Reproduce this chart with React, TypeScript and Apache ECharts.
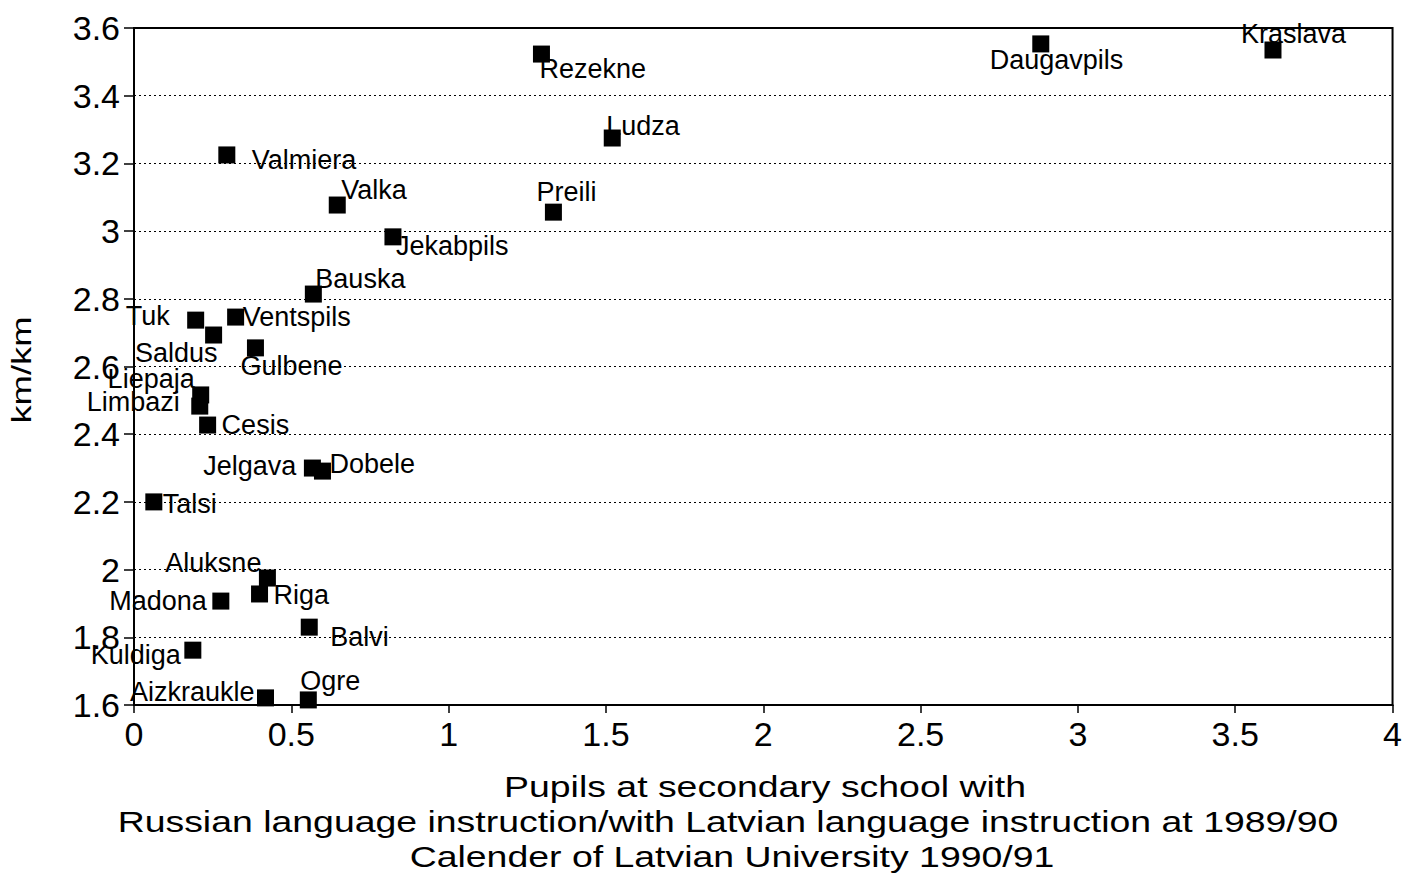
import React, { useEffect, useRef } from "react";
import * as echarts from "echarts";

// District names (labels on the points)
const districts = [
  "Rezekne", "Daugavpils", "Kraslava", "Ludza", "Valmiera", "Valka", "Preili",
  "Jekabpils", "Bauska", "Tuk", "Ventspils", "Saldus", "Gulbene", "Liepaja",
  "Limbazi", "Cesis", "Jelgava", "Dobele", "Talsi", "Aluksne", "Riga",
  "Madona", "Balvi", "Kuldiga", "Aizkraukle", "Ogre",
];

// Pupils with Russian / with Latvian language instruction (x)
const pupilsRatio = [
  1.295, 2.882, 3.62, 1.52, 0.295, 0.646, 1.333,
  0.823, 0.57, 0.196, 0.323, 0.253, 0.386, 0.212,
  0.209, 0.234, 0.567, 0.599, 0.063, 0.424, 0.399,
  0.276, 0.557, 0.187, 0.418, 0.554,
];

// km/km (y)
const kmPerKm = [
  3.523, 3.553, 3.535, 3.275, 3.225, 3.077, 3.056,
  2.983, 2.814, 2.737, 2.746, 2.693, 2.655, 2.516,
  2.483, 2.427, 2.30, 2.291, 2.20, 1.975, 1.928,
  1.907, 1.83, 1.762, 1.621, 1.615,
];

const xAxisTitleLines = [
  "Pupils at secondary school with",
  "Russian language instruction/with Latvian language instruction at 1989/90",
  "Calender of Latvian University 1990/91",
];
const yAxisTitle = "km/km";

// Label placement (style only): [align, dx, dy] relative to marker centre
const labelPlacement: [string, number, number][] = [
  ["left", -2, 15],    // Rezekne
  ["left", -51, 16],   // Daugavpils
  ["left", -32, -16],  // Kraslava
  ["left", -6, -12],   // Ludza
  ["left", 25, 5],     // Valmiera
  ["left", 4, -15],    // Valka
  ["left", -17, -20],  // Preili
  ["left", 3, 9],      // Jekabpils
  ["left", 2, -15],    // Bauska
  ["right", -26, -4],  // Tuk
  ["left", 7, 0],      // Ventspils
  ["right", 4, 18],    // Saldus
  ["left", -15, 18],   // Gulbene
  ["right", -6, -16],  // Liepaja
  ["right", -20, -4],  // Limbazi
  ["left", 14, 0],     // Cesis
  ["right", -16, -2],  // Jelgava
  ["left", 7, -7],     // Dobele
  ["left", 9, 2],      // Talsi
  ["right", -6, -15],  // Aluksne
  ["left", 14, 1],     // Riga
  ["right", -14, 0],   // Madona
  ["left", 21, 10],    // Balvi
  ["right", -12, 5],   // Kuldiga
  ["right", -11, -6],  // Aizkraukle
  ["left", -8, -19],   // Ogre
];

const FONT = "'Liberation Sans', Arial, Helvetica, sans-serif";

export default function App() {
  const ref = useRef<HTMLDivElement>(null);

  useEffect(() => {
    document.body.style.margin = "0";
    if (!ref.current) return;
    const chart = echarts.init(ref.current, undefined, { renderer: "svg" });

    const data = districts.map((name, i) => {
      const [align, dx, dy] = labelPlacement[i];
      return {
        name,
        value: [pupilsRatio[i], kmPerKm[i]],
        label: {
          position: "inside",
          align,
          verticalAlign: "middle",
          offset: [dx, dy],
        },
      };
    });

    const titleFont = 29;
    const titleScale = 1.29;
    const titleCenters = [765, 728, 732];
    const titleYs = [787, 822, 857];

    chart.setOption({
      animation: false,
      backgroundColor: "#ffffff",
      grid: {
        left: 134,
        right: 8,
        top: 28,
        bottom: 174,
        show: true,
        borderColor: "#000",
        borderWidth: 2,
        backgroundColor: "transparent",
      },
      xAxis: {
        type: "value",
        min: 0,
        max: 4,
        interval: 0.5,
        axisLine: { show: true, onZero: false, lineStyle: { color: "#000", width: 2 } },
        axisTick: { show: true, inside: false, length: 8, lineStyle: { color: "#000", width: 1.5 } },
        axisLabel: { color: "#000", fontSize: 34, fontFamily: FONT, margin: 12 },
        splitLine: { show: false },
      },
      yAxis: {
        type: "value",
        min: 1.6,
        max: 3.6,
        interval: 0.2,
        axisLine: { show: true, onZero: false, lineStyle: { color: "#000", width: 2 } },
        axisTick: { show: true, inside: false, length: 10, lineStyle: { color: "#000", width: 1.5 } },
        axisLabel: { color: "#000", fontSize: 34, fontFamily: FONT, margin: 14 },
        splitLine: { show: true, lineStyle: { color: "#000", type: [2, 3], width: 1.2 } },
      },
      graphic: [
        ...xAxisTitleLines.map((t, i) => ({
          type: "text",
          x: titleCenters[i],
          y: titleYs[i],
          scaleX: titleScale,
          style: {
            text: t,
            fill: "#000",
            font: `${titleFont}px ${FONT}`,
            align: "center",
            verticalAlign: "middle",
          },
        })),
        {
          type: "text",
          x: 22,
          y: 370,
          rotation: Math.PI / 2,
          scaleX: 1.3,
          style: {
            text: yAxisTitle,
            fill: "#000",
            font: `28px ${FONT}`,
            align: "center",
            verticalAlign: "middle",
          },
        },
      ],
      series: [
        {
          type: "scatter",
          symbol: "rect",
          symbolSize: 17,
          itemStyle: { color: "#000", opacity: 1 },
          clip: false,
          label: {
            show: true,
            formatter: "{b}",
            color: "#000",
            fontSize: 27,
            fontFamily: FONT,
            textBorderWidth: 0,
          },
          data,
        },
      ],
    });

    return () => chart.dispose();
  }, []);

  return (
    <div
      ref={ref}
      style={{ position: "fixed", left: 0, top: 0, width: 1405, height: 879 }}
    />
  );
}
